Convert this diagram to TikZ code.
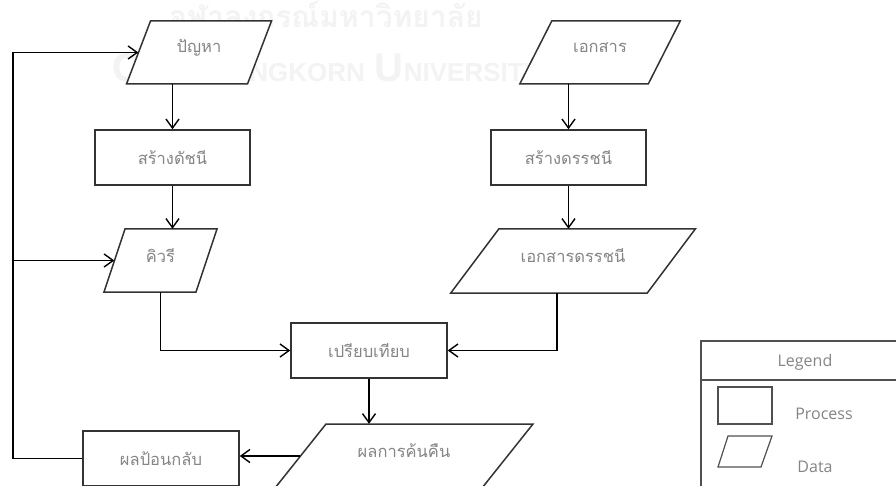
\documentclass[tikz,border=0pt]{standalone}
\usepackage{fontspec}
\usetikzlibrary{arrows.meta}
\newfontfamily\thaifont[Script=Thai]{Loma}
\newfontfamily\latinfont{Open Sans}
\newfontfamily\markfont{Liberation Sans}
\definecolor{edge}{HTML}{333333}
\definecolor{label}{HTML}{858585}
\definecolor{mark}{HTML}{F3F3F3}
\definecolor{keyline}{HTML}{505050}

\tikzset{
  link/.style={draw=black, line width=1.4pt,
    -{Straight Barb[length=9pt,width=13pt,line width=1.4pt]}},
  plain/.style={draw=black, line width=1.4pt},
  thaitext/.style={font=\thaifont\fontsize{16.5}{19}\selectfont, text=label},
  stepbox/.style={draw=edge, fill=white, line width=1.5pt, inner sep=0pt,
    minimum width=155pt, minimum height=55pt, thaitext},
  dataframe/.style={draw=edge, fill=white, line width=1.5pt},
  anchorbox/.style={inner sep=0pt},
  keytext/.style={font=\latinfont\fontsize{16}{18}\selectfont, text=label},
  keyline/.style={draw=keyline, line width=1.2pt},
}

% Data symbol: name, centre x, centre y, width at mid height, height, slant, text
\newcommand\datanode[7]{%
  \path[dataframe]
    ({#2-#4/2+#6/2},{#3-#5/2}) -- ({#2+#4/2+#6/2},{#3-#5/2}) --
    ({#2+#4/2-#6/2},{#3+#5/2}) -- ({#2-#4/2-#6/2},{#3+#5/2}) -- cycle;
  \node[anchorbox, minimum width=#4pt, minimum height=#5pt] (#1) at (#2,#3) {};
  \node[thaitext] (#1-t) at ([yshift=5pt]#1.center) {#7};
}

\begin{document}
\begin{tikzpicture}[x=1pt, y=-1pt, line join=miter]
\useasboundingbox (0,0) rectangle (896,486);
\clip (0,0) rectangle (896,486);
\fill[white] (0,0) rectangle (896,486);

% faint university mark behind the chart
\node[text=mark, font=\thaifont\bfseries\fontsize{30}{30}\selectfont, anchor=base]
  (mark-th) at (326,28) {จุฬาลงกรณ์มหาวิทยาลัย};
\node[text=mark, font=\markfont\bfseries, anchor=base west, inner sep=0pt]
  (mark-en) at (112,82)
  {{\fontsize{40}{40}\selectfont C}{\fontsize{26}{26}\selectfont HULALONGKORN}\hspace{10pt}%
   {\fontsize{40}{40}\selectfont U}{\fontsize{26}{26}\selectfont NIVERSITY}};

% query side
\datanode{prob}{199}{52.5}{121}{63}{24}{ปัญหา}
\node[stepbox] (mkidx) at (172.5,157.5) {สร้างดัชนี};
\datanode{query}{160.5}{260.5}{92}{63}{21}{คิวรี}

% document side
\datanode{doc}{600}{52.5}{128.5}{63}{32}{เอกสาร}
\node[stepbox] (mkdoc) at (568.5,157.5) {สร้างดรรชนี};
\datanode{docidx}{573}{261}{196.5}{64}{48}{เอกสารดรรชนี}

% matching and results
\node[stepbox, minimum width=156pt] (cmp) at (369,350.5) {เปรียบเทียบ};
\datanode{res}{404}{456}{207}{64}{51}{ผลการค้นคืน}
\node[stepbox, minimum width=156pt] (fb) at (161,458.5) {ผลป้อนกลับ};

% connectors
\draw[link] (mkidx.north |- prob.south) -- (mkidx.north);
\draw[link] (mkidx.south) -- (mkidx.south |- query.north);
\draw[link] (query.south) |- (cmp.west);
\draw[link] (mkdoc.north |- doc.south) -- (mkdoc.north);
\draw[link] (mkdoc.south) -- (mkdoc.south |- docidx.north);
\draw[link] ([xshift=-16pt]docidx.south) |- (cmp.east);
\draw[link] (cmp.south) -- (cmp.south |- res.north);
\draw[link] (res.west) -- (res.west -| fb.east);

% feedback rail
\coordinate (rail-top) at (13,52.5);
\coordinate (rail-bot) at (13,458.5);
\draw[plain] (fb.west) -- (rail-bot) -- (rail-top);
\draw[link] (rail-top) -- (prob.west);
\draw[link] (rail-top |- query.west) -- (query.west);

% legend
\node[anchorbox, minimum width=240pt, minimum height=170pt, anchor=north west]
  (legend) at (701,341) {};
\draw[keyline] (legend.south west) -- (legend.north west) -- (legend.north east);
\coordinate (legend-rule) at (701,380);
\draw[keyline] (legend-rule) -- (legend-rule -| legend.east);
\node[keytext] (legend-title) at (805,362) {Legend};
\node[keyline, anchorbox, minimum width=54pt, minimum height=37pt] (key-proc) at (745,405.5) {};
\node[keytext] (key-proc-t) at (824,414) {Process};
\draw[keyline] (728,436) -- (772,436) -- (761,467) -- (718,467) -- cycle;
\node[keytext] (key-data-t) at (815,467) {Data};
\end{tikzpicture}
\end{document}
